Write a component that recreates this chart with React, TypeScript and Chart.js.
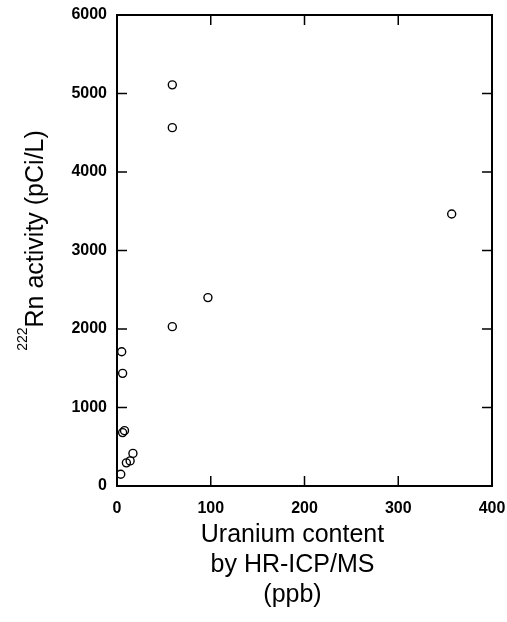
import React, { useEffect, useRef } from "react";
import { Chart, registerables } from "chart.js";

Chart.register(...registerables);

const uraniumPpb = [5, 6, 8, 6, 17, 14, 10, 4, 59, 59, 97, 59, 357];
const radonPciL = [1710, 1435, 705, 680, 415, 320, 295, 150, 5110, 4565, 2400, 2030, 3465];
const xTicks = [0, 100, 200, 300, 400];
const yTicks = [0, 1000, 2000, 3000, 4000, 5000, 6000];
const xTitleLines = ["Uranium content", "by HR-ICP/MS", "(ppb)"];
const yTitleSup = "222";
const yTitleMain = "Rn activity (pCi/L)";

const FONT = '"Liberation Sans", Arial, Helvetica, sans-serif';

const frameAndTitles = {
  id: "frameAndTitles",
  afterDraw(chart: any) {
    const { ctx, chartArea, scales } = chart;
    const { left, right, top, bottom } = chartArea;
    const xs = scales.x;
    const ys = scales.y;
    ctx.save();
    ctx.strokeStyle = "#000";
    ctx.lineWidth = 2;
    ctx.strokeRect(left, top, right - left, bottom - top);
    ctx.lineWidth = 1.5;
    const L = 10;
    ctx.beginPath();
    for (const v of xTicks) {
      const px = xs.getPixelForValue(v);
      ctx.moveTo(px, bottom);
      ctx.lineTo(px, bottom - L);
      ctx.moveTo(px, top);
      ctx.lineTo(px, top + L);
    }
    for (const v of yTicks) {
      const py = ys.getPixelForValue(v);
      ctx.moveTo(left, py);
      ctx.lineTo(left + L, py);
      ctx.moveTo(right, py);
      ctx.lineTo(right - L, py);
    }
    ctx.stroke();

    ctx.fillStyle = "#000";
    ctx.font = `25px ${FONT}`;
    ctx.textAlign = "center";
    ctx.textBaseline = "alphabetic";
    const cx = (left + right) / 2 - 12;
    xTitleLines.forEach((t, i) => ctx.fillText(t, cx, bottom + 56 + i * 30));

    ctx.translate(43, (top + bottom) / 2 - 10);
    ctx.rotate(-Math.PI / 2);
    ctx.font = `14px ${FONT}`;
    const wSup = ctx.measureText(yTitleSup).width;
    ctx.font = `25px ${FONT}`;
    const wMain = ctx.measureText(yTitleMain).width;
    const start = -(wSup + wMain) / 2;
    ctx.textAlign = "left";
    ctx.font = `14px ${FONT}`;
    ctx.fillText(yTitleSup, start, -16);
    ctx.font = `25px ${FONT}`;
    ctx.fillText(yTitleMain, start + wSup, 0);
    ctx.restore();
  },
};

export default function App() {
  const ref = useRef<HTMLCanvasElement | null>(null);
  useEffect(() => {
    if (!ref.current) return;
    const chart = new Chart(ref.current, {
      type: "scatter",
      data: {
        datasets: [
          {
            data: uraniumPpb.map((u, i) => ({ x: u, y: radonPciL[i] })),
            pointStyle: "circle",
            pointRadius: 4,
            pointBorderWidth: 1.4,
            pointBorderColor: "#000",
            pointBackgroundColor: "rgba(255,255,255,0)",
          },
        ],
      },
      options: {
        responsive: false,
        animation: false,
        layout: { padding: { top: 15, right: 15, left: 0, bottom: 0 } },
        plugins: { legend: { display: false }, tooltip: { enabled: false } },
        scales: {
          x: {
            type: "linear",
            min: 0,
            max: 400,
            afterBuildTicks: (s: any) => {
              s.ticks = xTicks.map((v) => ({ value: v }));
            },
            ticks: {
              color: "#000",
              padding: 13,
              maxRotation: 0,
              callback: (v: any) => String(v),
              font: { family: FONT, size: 16, weight: "bold" },
            },
            grid: { display: false, drawTicks: false },
            border: { display: false },
            afterFit: (s: any) => {
              s.height = 136;
              s.paddingLeft = 0;
              s.paddingRight = 0;
            },
          },
          y: {
            type: "linear",
            min: 0,
            max: 6000,
            afterBuildTicks: (s: any) => {
              s.ticks = yTicks.map((v) => ({ value: v }));
            },
            ticks: {
              color: "#000",
              padding: 10,
              callback: (v: any) => String(v),
              font: { family: FONT, size: 16, weight: "bold" },
            },
            grid: { display: false, drawTicks: false },
            border: { display: false },
            afterFit: (s: any) => {
              s.width = 117;
              s.paddingTop = 0;
              s.paddingBottom = 0;
            },
          },
        },
      },
      plugins: [frameAndTitles],
    });
    return () => chart.destroy();
  }, []);
  return (
    <canvas
      ref={ref}
      width={507}
      height={622}
      style={{ position: "fixed", left: 0, top: 0, width: 507, height: 622, background: "#fff" }}
    />
  );
}
